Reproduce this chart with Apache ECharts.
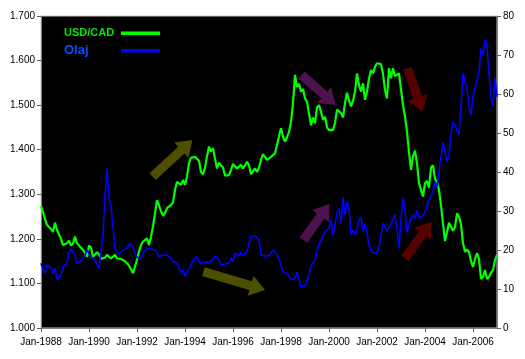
<!DOCTYPE html>
<html>
<head>
<meta charset="utf-8">
<script src="https://cdn.jsdelivr.net/npm/echarts@6/dist/echarts.min.js"></script>
<style>
html,body{margin:0;padding:0;background:#fff;}
#chart{width:525px;height:359px;}
</style>
</head>
<body>
<div id="chart"></div>
<script>
// Month names and years used to build the monthly categories (Jan-1988 .. Jan-2007)
const monthNames = ['Jan','Feb','Mar','Apr','May','Jun','Jul','Aug','Sep','Oct','Nov','Dec'];
const firstYear = 1988;
const pointCount = 229;

// USD/CAD exchange rate, monthly (left axis)
const usdcad = [
  1.274,1.260,1.245,1.231,1.228,1.222,1.216,1.236,1.220,1.216,1.200,1.186,
  1.186,1.190,1.196,1.185,1.190,1.205,1.190,1.186,1.180,1.175,1.168,1.160,
  1.185,1.180,1.160,1.162,1.170,1.165,1.155,1.155,1.158,1.164,1.162,1.156,
  1.160,1.164,1.156,1.154,1.155,1.156,1.150,1.145,1.140,1.132,1.123,1.138,
  1.153,1.172,1.186,1.194,1.198,1.201,1.186,1.205,1.228,1.257,1.287,1.275,
  1.262,1.252,1.258,1.269,1.272,1.276,1.282,1.310,1.328,1.326,1.321,1.332,
  1.321,1.340,1.370,1.382,1.383,1.384,1.382,1.375,1.350,1.345,1.360,1.385,
  1.407,1.396,1.403,1.380,1.358,1.371,1.365,1.360,1.342,1.340,1.343,1.355,
  1.368,1.370,1.358,1.362,1.366,1.358,1.365,1.373,1.365,1.345,1.345,1.358,
  1.350,1.360,1.377,1.390,1.390,1.377,1.380,1.384,1.381,1.392,1.410,1.430,
  1.448,1.429,1.418,1.428,1.440,1.463,1.504,1.568,1.541,1.548,1.530,1.536,
  1.515,1.508,1.510,1.455,1.472,1.459,1.495,1.500,1.485,1.467,1.474,1.450,
  1.444,1.444,1.444,1.460,1.490,1.488,1.482,1.472,1.505,1.528,1.510,1.497,
  1.510,1.530,1.571,1.545,1.530,1.549,1.512,1.530,1.560,1.579,1.571,1.586,
  1.594,1.597,1.592,1.570,1.534,1.515,1.583,1.560,1.583,1.565,1.565,1.571,
  1.535,1.500,1.474,1.440,1.395,1.355,1.385,1.398,1.370,1.325,1.310,1.295,
  1.325,1.330,1.315,1.360,1.365,1.335,1.326,1.310,1.275,1.235,1.195,1.215,
  1.236,1.232,1.218,1.227,1.257,1.250,1.232,1.190,1.171,1.176,1.170,1.150,
  1.137,1.155,1.168,1.155,1.110,1.115,1.130,1.110,1.115,1.124,1.130,1.153,
  1.164
];

// Oil price (Olaj), USD per barrel, monthly (right axis)
const oil = [
  16.6,15.0,14.0,16.2,16.2,15.5,14.0,15.3,12.5,12.0,13.5,15.7,
  16.0,16.6,19.5,20.2,19.8,18.7,16.5,16.5,17.2,18.0,18.7,20.0,
  19.8,18.3,17.8,17.4,16.2,15.3,15.7,23.8,34.1,40.9,33.0,31.1,
  26.0,20.4,19.6,18.8,19.0,20.0,20.2,20.4,21.5,21.2,20.8,19.2,
  18.2,17.8,17.6,19.2,19.8,20.4,20.3,20.3,20.0,20.0,19.2,18.3,
  18.7,18.7,18.7,18.7,18.3,17.9,17.0,16.6,16.7,15.5,14.0,14.9,
  13.3,14.4,15.2,16.0,17.4,17.8,18.3,17.0,16.4,16.8,17.0,16.6,
  16.8,17.0,17.6,18.5,18.0,17.4,16.2,16.0,16.4,16.5,16.7,18.0,
  17.0,19.2,19.0,18.4,19.4,18.6,18.8,19.6,21.7,23.6,23.2,23.6,
  23.2,22.6,18.7,18.4,18.5,19.0,18.5,18.7,20.0,19.5,18.8,17.6,
  16.0,14.4,14.0,14.0,14.0,12.5,12.2,12.6,14.4,12.5,10.5,10.8,
  10.8,10.6,13.6,16.0,15.5,17.5,19.8,21.5,22.6,22.2,24.7,25.0,
  25.5,27.7,23.8,24.3,29.4,30.7,26.8,33.5,29.0,32.4,30.8,24.0,
  25.1,24.0,25.5,27.5,28.5,24.7,26.8,24.3,21.2,20.0,19.3,19.2,
  19.3,20.5,23.5,26.8,26.0,24.8,25.6,26.8,28.0,29.0,25.1,20.5,
  28.0,33.5,30.0,24.5,26.5,28.2,29.0,28.1,30.3,28.1,27.7,28.8,
  29.8,29.4,32.8,32.6,35.0,37.5,36.2,40.1,44.0,47.6,47.8,42.6,
  44.5,49.5,53.0,52.0,50.5,49.5,56.7,65.5,63.2,61.5,57.0,54.5,
  59.3,59.7,63.6,65.5,71.7,70.0,74.0,72.5,65.3,59.0,57.0,64.0,
  59.3
];

// Decorative trend arrows: [fromMonthIndex, fromRate, toMonthIndex, toRate] on the left (USD/CAD) scale
const arrows = [
  [55.8, 1.3395, 75.7, 1.4218],
  [81.2, 1.1263, 112.0, 1.0853],
  [130.3, 1.5677, 147.3, 1.5003],
  [131.2, 1.1974, 144.2, 1.2782],
  [183.2, 1.5827, 190.8, 1.4853],
  [182.0, 1.1564, 195.3, 1.2385]
];
const arrowColors = ['#4f4f00','#4f4f00','#4e124e','#4e124e','#560000','#560000'];

// Axis tick settings
const leftMin = 1.0, leftMax = 1.7, leftStep = 0.1;
const rightMin = 0, rightMax = 80, rightStep = 10;
const xLabelEvery = 24;

const categories = [];
for (let i = 0; i < pointCount; i++) {
  const y = firstYear + Math.floor(i / 12);
  categories.push(monthNames[i % 12] + '-' + y);
}

const chart = echarts.init(document.getElementById('chart'), null, {renderer: 'canvas'});
const font = '"Liberation Sans", Arial, sans-serif';

chart.setOption({
  backgroundColor: '#ffffff',
  animation: false,
  grid: {
    left: 41, right: 28, top: 16, bottom: 31,
    show: true, backgroundColor: '#000000', borderColor: '#c8c8c8', borderWidth: 1
  },
  xAxis: [{
    type: 'category',
    data: categories,
    boundaryGap: false,
    axisLine: {lineStyle: {color: '#808080', width: 1}},
    axisTick: {show: true, interval: xLabelEvery - 1, length: 4, inside: false, lineStyle: {color: '#606060'}},
    axisLabel: {interval: xLabelEvery - 1, color: '#000', fontSize: 10, fontFamily: font, margin: 9},
    splitLine: {show: false}
  }, {
    type: 'value', min: 0, max: pointCount - 1, show: false
  }],
  yAxis: [{
    type: 'value', min: leftMin, max: leftMax, interval: leftStep, position: 'left',
    axisLine: {show: true, lineStyle: {color: '#808080'}},
    axisTick: {show: true, length: 4, lineStyle: {color: '#606060'}},
    axisLabel: {color: '#000', fontSize: 10, fontFamily: font, margin: 6, formatter: v => v.toFixed(3)},
    splitLine: {show: false}
  }, {
    type: 'value', min: rightMin, max: rightMax, interval: rightStep, position: 'right',
    axisLine: {show: true, lineStyle: {color: '#808080'}},
    axisTick: {show: true, length: 4, lineStyle: {color: '#606060'}},
    axisLabel: {color: '#000', fontSize: 10, fontFamily: font, margin: 6},
    splitLine: {show: false}
  }],
  series: [{
    name: 'USD/CAD', type: 'line', data: usdcad, xAxisIndex: 0, yAxisIndex: 0,
    showSymbol: false, symbol: 'none',
    lineStyle: {color: '#00ff00', width: 2.2}, itemStyle: {color: '#00ff00'}, z: 3
  }, {
    name: 'Olaj', type: 'line', data: oil, xAxisIndex: 0, yAxisIndex: 1,
    showSymbol: false, symbol: 'none',
    lineStyle: {color: '#0000ff', width: 1.6}, itemStyle: {color: '#0000ff'}, z: 4
  }, {
    name: 'arrows', type: 'custom', xAxisIndex: 1, yAxisIndex: 0, data: arrows, z: 2,
    clip: false, silent: true,
    renderItem: function (params, api) {
      const a = api.coord([api.value(0), api.value(1)]);
      const b = api.coord([api.value(2), api.value(3)]);
      const dx = b[0] - a[0], dy = b[1] - a[1];
      const len = Math.sqrt(dx * dx + dy * dy);
      const ux = dx / len, uy = dy / len, nx = -uy, ny = ux;
      const sw = 4.6, hw = 10.5, hl = 15;
      const cx = b[0] - ux * hl, cy = b[1] - uy * hl;
      const pts = [
        [a[0] + nx * sw, a[1] + ny * sw],
        [cx + nx * sw, cy + ny * sw],
        [cx + nx * hw, cy + ny * hw],
        [b[0], b[1]],
        [cx - nx * hw, cy - ny * hw],
        [cx - nx * sw, cy - ny * sw],
        [a[0] - nx * sw, a[1] - ny * sw]
      ];
      return {type: 'polygon', shape: {points: pts}, style: {fill: arrowColors[params.dataIndex]}};
    }
  }],
  graphic: [
    {type: 'text', left: 64, top: 27, z: 10,
     style: {text: 'USD/CAD', fill: '#00e600', font: 'bold 11px "Liberation Sans", Arial, sans-serif'}},
    {type: 'rect', shape: {x: 121, y: 31.5, width: 39, height: 3.5}, style: {fill: '#00ff00'}, z: 10},
    {type: 'text', left: 64, top: 43.5, z: 10,
     style: {text: 'Olaj', fill: '#0a4cff', font: 'bold 13px "Liberation Sans", Arial, sans-serif'}},
    {type: 'rect', shape: {x: 121, y: 49, width: 39, height: 3.5}, style: {fill: '#0000ff'}, z: 10}
  ]
});
</script>
</body>
</html>
